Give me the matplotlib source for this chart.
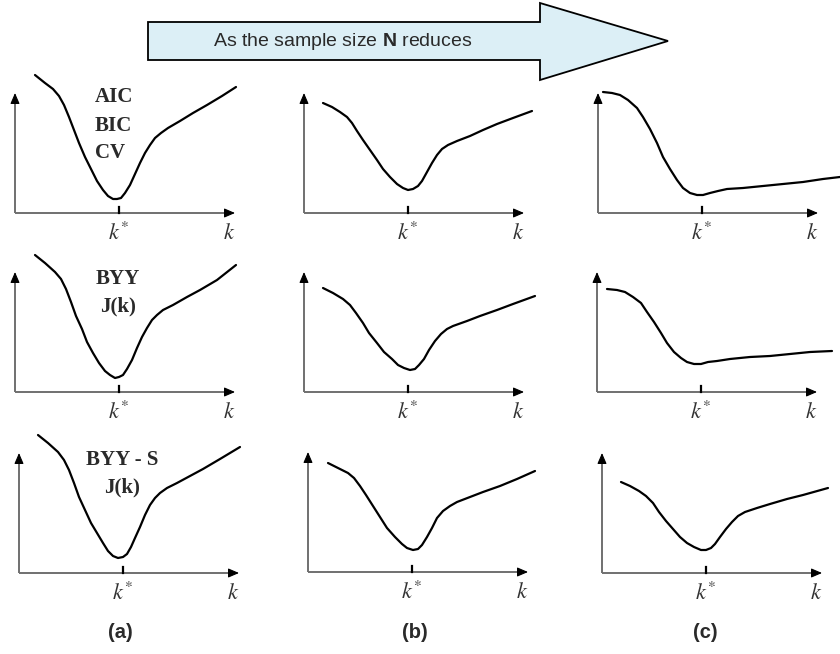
import matplotlib
matplotlib.use("Agg")
import matplotlib.pyplot as plt
from matplotlib.patches import Polygon

plt.rcParams['mathtext.fontset'] = 'custom'
plt.rcParams['mathtext.rm'] = 'Liberation Sans'
plt.rcParams['mathtext.bf'] = 'Liberation Sans:bold'
plt.rcParams['mathtext.it'] = 'Liberation Sans:italic'

# ---------------- data (k along the horizontal axis, criterion value J(k) vertical) -------------
K_MAX = 220          # extent of the k axis
J_MAX = 120          # extent of the criterion axis
K_STAR = 104         # true number of components k*

# row 1: AIC / BIC / CV
k_r1a = [20, 30, 38, 44, 49, 54, 59, 64, 70, 76, 82, 88, 93, 98, 102, 106, 110, 115, 120,
         125, 130, 135, 140, 146, 153, 165, 178, 192, 207, 221]
J_r1a = [138, 130, 124, 117, 108, 96, 83, 70, 56, 44, 32, 23, 17, 14, 14, 15, 20, 28, 39,
         50, 60, 68, 75, 80, 85, 92, 100, 108, 117, 126]
k_r1b = [19, 28, 36, 43, 48, 53, 59, 66, 73, 79, 86, 93, 99, 104, 109, 114, 118, 123, 128,
         133, 138, 144, 153, 166, 179, 193, 209, 228]
J_r1b = [110, 106, 101, 96, 90, 82, 73, 63, 53, 44, 36, 29, 25, 23, 24, 27, 32, 41, 50,
         58, 64, 68, 72, 77, 83, 89, 95, 102]
k_r1c = [5, 14, 22, 30, 39, 45, 52, 59, 65, 72, 79, 85, 92, 99, 105, 112, 120, 129, 145,
         165, 185, 205, 225, 242]
J_r1c = [121, 120, 118, 113, 105, 96, 84, 70, 56, 44, 33, 25, 20, 18, 18, 20, 22, 24, 25,
         27, 29, 31, 34, 36]

# row 2: BYY J(k)
k_r2a = [20, 30, 40, 46, 51, 56, 61, 67, 72, 78, 84, 90, 95, 100, 104, 108, 112, 117, 122,
         127, 132, 137, 142, 148, 158, 172, 185, 202, 221]
J_r2a = [137, 129, 120, 113, 103, 90, 76, 63, 50, 39, 29, 21, 17, 14, 15, 17, 23, 32, 44,
         55, 64, 72, 77, 82, 87, 95, 102, 112, 127]
k_r2b = [19, 29, 39, 46, 52, 59, 65, 73, 80, 88, 94, 100, 106, 111, 115, 120, 125, 131,
         137, 143, 149, 163, 176, 193, 209, 231]
J_r2b = [104, 99, 93, 87, 79, 69, 59, 49, 40, 33, 27, 24, 22, 23, 27, 33, 42, 51,
         58, 63, 66, 71, 76, 82, 88, 96]
k_r2c = [10, 20, 28, 36, 44, 50, 57, 64, 70, 77, 84, 90, 97, 104, 111, 120, 133, 153,
         173, 193, 213, 235]
J_r2c = [103, 102, 100, 95, 89, 80, 70, 59, 49, 40, 34, 30, 28, 28, 30, 31, 33, 35,
         36, 38, 40, 41]

# row 3: BYY - S J(k)
k_r3a = [19, 29, 39, 45, 50, 55, 60, 66, 72, 78, 84, 89, 94, 99, 104, 108, 112, 116, 121,
         126, 131, 136, 141, 148, 158, 171, 184, 201, 221]
J_r3a = [138, 130, 121, 113, 103, 90, 76, 63, 50, 40, 30, 22, 17, 15, 16, 19, 26, 35, 46,
         58, 68, 75, 80, 85, 90, 97, 104, 114, 126]
k_r3b = [20, 30, 40, 46, 52, 58, 65, 72, 79, 87, 94, 99, 105, 110, 114, 119, 124, 129,
         135, 142, 149, 162, 175, 192, 209, 227]
J_r3b = [109, 104, 99, 94, 86, 77, 66, 55, 44, 35, 28, 24, 22, 23, 27, 35, 44, 54,
         61, 66, 70, 75, 80, 86, 93, 101]
k_r3c = [19, 28, 37, 44, 51, 57, 64, 71, 78, 85, 92, 99, 104, 109, 113, 118, 124, 130,
         136, 143, 155, 168, 185, 201, 226]
J_r3c = [91, 87, 82, 77, 70, 61, 52, 44, 36, 30, 26, 23, 23, 25, 29, 36, 44, 51,
         57, 61, 65, 69, 74, 78, 85]

curves = [[(k_r1a, J_r1a), (k_r1b, J_r1b), (k_r1c, J_r1c)],
          [(k_r2a, J_r2a), (k_r2b, J_r2b), (k_r2c, J_r2c)],
          [(k_r3a, J_r3a), (k_r3b, J_r3b), (k_r3c, J_r3c)]]

row_labels = [["AIC", "BIC", "CV"], ["BYY", "J(k)"], ["BYY - S", "J(k)"]]
column_labels = ["(a)", "(b)", "(c)"]
arrow_text = r"As the sample size $\mathbf{N}$ reduces"

# ---------------- layout ----------------
W, H = 840, 654
fig = plt.figure(figsize=(W / 100, H / 100), dpi=100)
fig.patch.set_facecolor("white")

over = fig.add_axes([0, 0, 1, 1], zorder=0)
over.set_xlim(0, W)
over.set_ylim(H, 0)
over.axis("off")

# big arrow
arrow_pts = [(148, 22), (540, 22), (540, 3), (668, 41), (540, 80), (540, 60), (148, 60)]
over.add_patch(Polygon(arrow_pts, closed=True, facecolor="#DCEFF6", edgecolor="black",
                       linewidth=1.3, joinstyle="miter"))
over.text(343, 42, arrow_text, fontsize=14, family="Liberation Sans", color="#2a2a2a",
          ha="center", va="center", math_fontfamily="custom")

# column labels
col_x = [120, 415, 705]
for lab, cx in zip(column_labels, col_x):
    over.text(cx, 632, lab, fontsize=14.5, family="Liberation Sans", fontweight="bold",
              color="#2a2a2a", ha="center", va="center")

origins = [[(15, 213), (304, 213), (598, 213)],
           [(15, 392), (304, 392), (597, 392)],
           [(19, 573), (308, 572), (602, 573)]]

axis_color = "#707070"
for r in range(3):
    for c in range(3):
        ox, oy = origins[r][c]
        ax = fig.add_axes([ox / W, 1 - oy / H, K_MAX / W, J_MAX / H], zorder=2)
        ax.set_xlim(0, K_MAX)
        ax.set_ylim(0, J_MAX)
        ax.axis("off")
        ax.patch.set_alpha(0)
        # axis shafts
        ax.plot([0, K_MAX - 6], [0, 0], color=axis_color, lw=1.4, clip_on=False, solid_capstyle="butt")
        ax.plot([0, 0], [0, J_MAX - 6], color=axis_color, lw=1.4, clip_on=False, solid_capstyle="butt")
        # arrow heads
        ax.annotate("", xy=(K_MAX, 0), xytext=(K_MAX - 8, 0), annotation_clip=False,
                    arrowprops=dict(arrowstyle="-|>,head_length=0.65,head_width=0.28",
                                    color="black", lw=0.8, shrinkA=0, shrinkB=0))
        ax.annotate("", xy=(0, J_MAX), xytext=(0, J_MAX - 8), annotation_clip=False,
                    arrowprops=dict(arrowstyle="-|>,head_length=0.65,head_width=0.28",
                                    color="black", lw=0.8, shrinkA=0, shrinkB=0))
        # k* tick
        ax.plot([K_STAR, K_STAR], [0, 6], color="black", lw=1.6, clip_on=False)
        # labels
        ax.text(K_STAR, -20, r"$k^{*}$", fontsize=16, math_fontfamily="stix",
                ha="center", va="center", color="#333333", clip_on=False)
        ax.text(214, -20, r"$k$", fontsize=16, math_fontfamily="stix",
                ha="center", va="center", color="#333333", clip_on=False)
        # curve
        kk, jj = curves[r][c]
        ax.plot(kk, jj, color="black", lw=1.6, clip_on=False,
                solid_joinstyle="round", solid_capstyle="round")

        if c == 0:
            labs = row_labels[r]
            if r == 0:
                for lab, yy in zip(labs, [116, 87, 60]):
                    ax.text(80, yy, lab, fontsize=15, family="Liberation Serif",
                            fontweight="bold", color="#2a2a2a", ha="left", va="center")
            else:
                for lab, yy in zip(labs, [113, 86]):
                    ax.text(103, yy, lab, fontsize=15, family="Liberation Serif",
                            fontweight="bold", color="#2a2a2a", ha="center", va="center")

fig.savefig("out.png", dpi=100, facecolor="white")
